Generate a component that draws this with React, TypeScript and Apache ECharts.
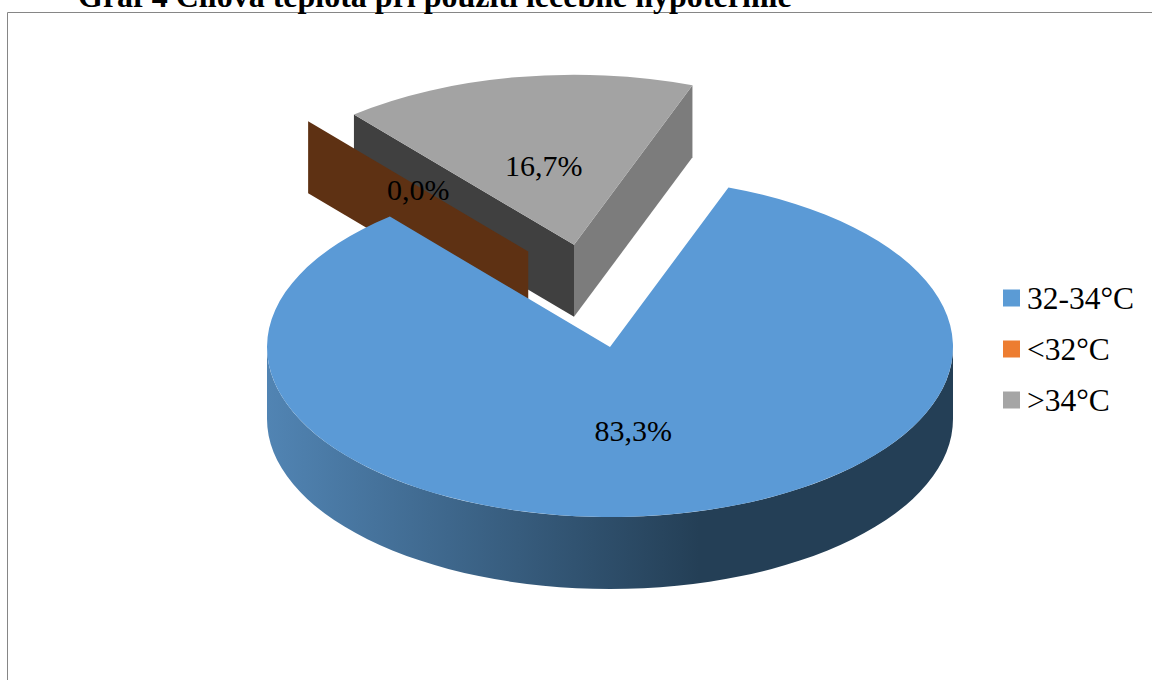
import React, { useEffect, useRef } from "react";
import * as echarts from "echarts";

// Target temperature shares under therapeutic hypothermia, in percent.
const sliceNames = ["32-34°C", "<32°C", ">34°C"];
const sliceValues = [83.3, 0.0, 16.7];
const titleText = "Graf 4 Cílová teplota při použití léčebné hypotermie";

// Pull-out of each slice as a fraction of the radius.
const sliceExplode = [0, 0.61, 0.61];
// An empty slice has no bisector of its own, so its pull-out bearing is given.
const bearingOverride: (number | null)[] = [null, 337, 350.1];
const legendColors = ["#5b9bd5", "#ed7d31", "#a5a5a5"];
const labelNudge = [
  [-6, 0],
  [0, 3],
  [-1, 4],
];

// Pie projection: an ellipse with an extruded wall below it.
const CX = 610;
const CY = 347;
const RX = 343;
const RY = 170;
const DEPTH = 72;
const START_BEARING = 20.2;

const SERIF = "Liberation Serif";

// Bearings run clockwise from twelve o'clock, in degrees.
const onRim = (ox: number, oy: number, bearing: number, f = 1) => {
  const t = (bearing * Math.PI) / 180;
  return [ox + RX * f * Math.sin(t), oy - RY * f * Math.cos(t)];
};

const total = sliceValues.reduce((a, b) => a + b, 0);
const spans = (() => {
  let from = START_BEARING;
  return sliceValues.map((v) => {
    const to = from + (v / total) * 360;
    const s = { from, to };
    from = to;
    return s;
  });
})();

const wall = (ox: number, oy: number, bearing: number) => {
  const [x, y] = onRim(ox, oy, bearing);
  return `M${ox} ${oy}L${x} ${y}L${x} ${y + DEPTH}L${ox} ${oy + DEPTH}Z`;
};

const sector = (ox: number, oy: number, from: number, to: number) => {
  const [x0, y0] = onRim(ox, oy, from);
  const [x1, y1] = onRim(ox, oy, to);
  const large = to - from > 180 ? 1 : 0;
  return `M${ox} ${oy}L${x0} ${y0}A${RX} ${RY} 0 ${large} 1 ${x1} ${y1}Z`;
};

const frontWall = (ox: number, oy: number) =>
  `M${ox + RX} ${oy}A${RX} ${RY} 0 0 1 ${ox - RX} ${oy}` +
  `L${ox - RX} ${oy + DEPTH}A${RX} ${RY} 0 0 0 ${ox + RX} ${oy + DEPTH}Z`;

const pathEl = (d: string, fill: unknown) => ({
  type: "path",
  shape: { pathData: d },
  style: { fill },
});

const renderSlice = (index: number) => (_params: unknown, api: any) => {
  const value = api.value(0);
  const { from, to } = spans[index];
  const mid = (from + to) / 2;
  const bearing = bearingOverride[index] ?? mid;
  const [ox, oy] = onRim(CX, CY, bearing, sliceExplode[index]);
  const children: any[] = [];

  if (index === 0) {
    children.push(
      pathEl(
        frontWall(ox, oy),
        new echarts.graphic.LinearGradient(0, 0, 1, 0, [
          { offset: 0, color: "#5184b3" },
          { offset: 0.63, color: "#243f56" },
          { offset: 1, color: "#243f56" },
        ]),
      ),
    );
    children.push(pathEl(sector(ox, oy, from, to), "#5b9ad6"));
  } else if (value === 0) {
    children.push(pathEl(wall(ox, oy, from), "#5e3113"));
  } else {
    children.push(pathEl(wall(ox, oy, from), "#404040"));
    children.push(pathEl(wall(ox, oy, to - 360), "#7c7c7c"));
    children.push(pathEl(sector(ox, oy, from, to), "#a3a3a3"));
  }

  const [lx, ly] = onRim(ox, oy, mid, 0.5);
  children.push({
    type: "text",
    x: lx + labelNudge[index][0],
    y: ly + labelNudge[index][1],
    z2: 10,
    style: {
      text: `${value.toFixed(1).replace(".", ",")}%`,
      fontFamily: SERIF,
      fontSize: 30,
      fill: "#000",
      align: "center",
      verticalAlign: "middle",
    },
  });
  return { type: "group", children };
};

// Painting order: rear slice first, the main slice last.
const sliceZ = [3, 2, 1];

export default function App() {
  const ref = useRef<HTMLDivElement>(null);
  useEffect(() => {
    const chart = echarts.init(ref.current!, undefined, { renderer: "svg" });
    chart.setOption({
      animation: false,
      backgroundColor: "#fff",
      title: {
        text: titleText,
        left: 78,
        top: -20,
        padding: 0,
        textStyle: { fontFamily: SERIF, fontWeight: "bold", fontSize: 32, color: "#000" },
      },
      legend: {
        data: sliceNames,
        orient: "vertical",
        left: 1003,
        top: 282,
        icon: "rect",
        itemWidth: 17,
        itemHeight: 17,
        itemGap: 19,
        padding: 0,
        selectedMode: false,
        textStyle: { fontFamily: SERIF, fontSize: 31.5, color: "#000", padding: [0, 0, 0, 2] },
      },
      graphic: [
        {
          type: "rect",
          silent: true,
          z: -1,
          shape: { x: 7.5, y: 12.5, width: 1200, height: 720 },
          style: { fill: "#fff", stroke: "#868686", lineWidth: 1 },
        },
      ],
      series: sliceNames.map((name, i) => ({
        type: "custom",
        name,
        coordinateSystem: "none",
        silent: true,
        z: sliceZ[i],
        itemStyle: { color: legendColors[i] },
        renderItem: renderSlice(i),
        data: [[sliceValues[i]]],
      })),
    });
    return () => chart.dispose();
  }, []);
  return (
    <div
      ref={ref}
      style={{ position: "absolute", left: 0, top: 0, width: 1152, height: 680, overflow: "hidden" }}
    />
  );
}
